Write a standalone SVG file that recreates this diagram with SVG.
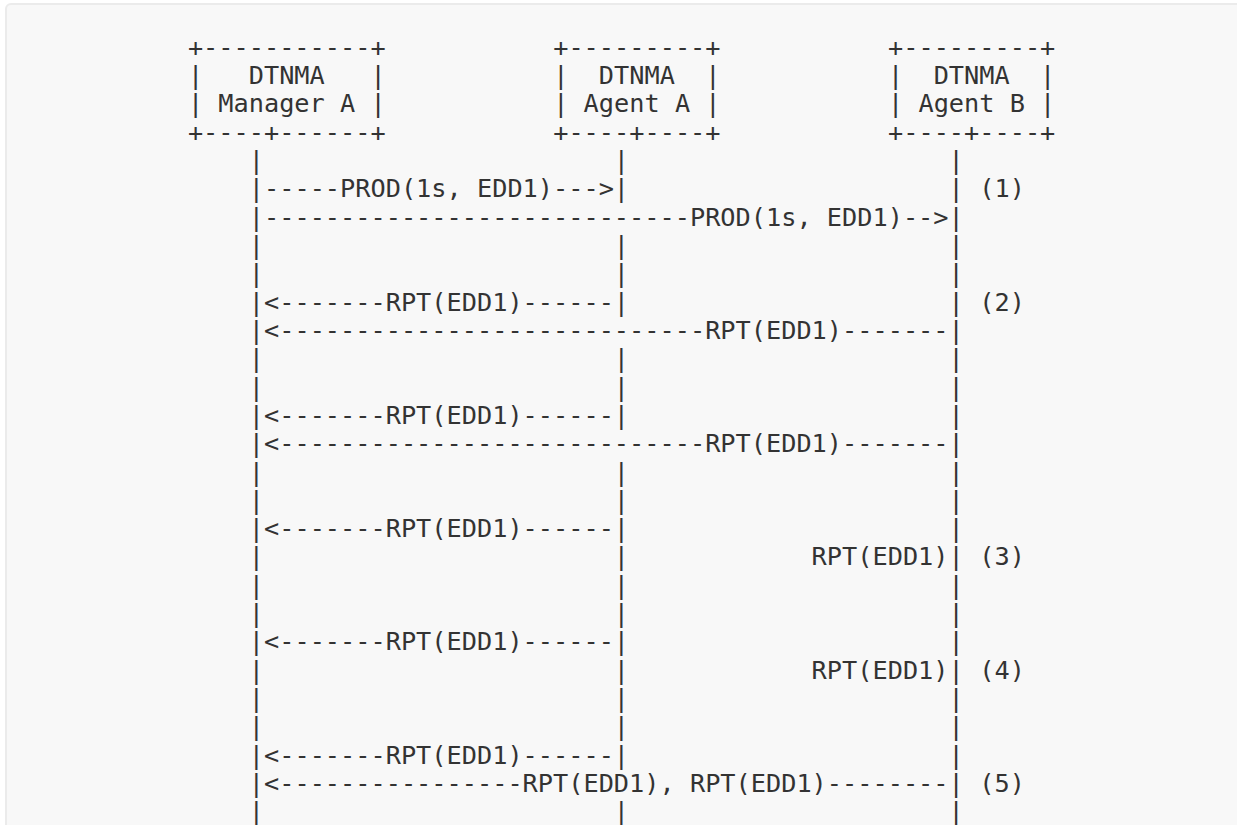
<svg xmlns="http://www.w3.org/2000/svg" width="1237" height="825" viewBox="0 0 1237 825">
  <style>
    .t { font-family: "DejaVu Sans Mono", "Liberation Mono", monospace; font-size: 25.28px; fill: #333333; white-space: pre; }
  </style>
  <rect x="0" y="0" width="1237" height="825" fill="#ffffff"/>
  <rect x="6" y="4" width="1250" height="840" rx="5" ry="5" fill="#f8f8f8" stroke="#ebebeb" stroke-width="2"/>

  <g id="manager-a">
    <text class="t" xml:space="preserve" x="187.9" y="55.7">+-----------+</text>
    <text class="t" xml:space="preserve" x="187.9" y="84.0">|   DTNMA   |</text>
    <text class="t" xml:space="preserve" x="187.9" y="112.3">| Manager A |</text>
    <text class="t" xml:space="preserve" x="187.9" y="140.6">+----+------+</text>
  </g>
  <g id="agent-a">
    <text class="t" xml:space="preserve" x="553.2" y="55.7">+---------+</text>
    <text class="t" xml:space="preserve" x="553.2" y="84.0">|  DTNMA  |</text>
    <text class="t" xml:space="preserve" x="553.2" y="112.3">| Agent A |</text>
    <text class="t" xml:space="preserve" x="553.2" y="140.6">+----+----+</text>
  </g>
  <g id="agent-b">
    <text class="t" xml:space="preserve" x="888.0" y="55.7">+---------+</text>
    <text class="t" xml:space="preserve" x="888.0" y="84.0">|  DTNMA  |</text>
    <text class="t" xml:space="preserve" x="888.0" y="112.3">| Agent B |</text>
    <text class="t" xml:space="preserve" x="888.0" y="140.6">+----+----+</text>
  </g>

  <g id="connectors">
    <text class="t" xml:space="preserve" x="248.8" y="168.9">|                       |                     |</text>
    <text class="t" xml:space="preserve" x="248.8" y="197.3">|-----PROD(1s, EDD1)---&gt;|                     |</text>
    <text class="t" xml:space="preserve" x="248.8" y="225.6">|----------------------------PROD(1s, EDD1)--&gt;|</text>
    <text class="t" xml:space="preserve" x="248.8" y="253.9">|                       |                     |</text>
    <text class="t" xml:space="preserve" x="248.8" y="282.2">|                       |                     |</text>
    <text class="t" xml:space="preserve" x="248.8" y="310.6">|&lt;-------RPT(EDD1)------|                     |</text>
    <text class="t" xml:space="preserve" x="248.8" y="338.9">|&lt;----------------------------RPT(EDD1)-------|</text>
    <text class="t" xml:space="preserve" x="248.8" y="367.2">|                       |                     |</text>
    <text class="t" xml:space="preserve" x="248.8" y="395.5">|                       |                     |</text>
    <text class="t" xml:space="preserve" x="248.8" y="423.8">|&lt;-------RPT(EDD1)------|                     |</text>
    <text class="t" xml:space="preserve" x="248.8" y="452.2">|&lt;----------------------------RPT(EDD1)-------|</text>
    <text class="t" xml:space="preserve" x="248.8" y="480.5">|                       |                     |</text>
    <text class="t" xml:space="preserve" x="248.8" y="508.8">|                       |                     |</text>
    <text class="t" xml:space="preserve" x="248.8" y="537.1">|&lt;-------RPT(EDD1)------|                     |</text>
    <text class="t" xml:space="preserve" x="248.8" y="565.4">|                       |            RPT(EDD1)|</text>
    <text class="t" xml:space="preserve" x="248.8" y="593.8">|                       |                     |</text>
    <text class="t" xml:space="preserve" x="248.8" y="622.1">|                       |                     |</text>
    <text class="t" xml:space="preserve" x="248.8" y="650.4">|&lt;-------RPT(EDD1)------|                     |</text>
    <text class="t" xml:space="preserve" x="248.8" y="678.7">|                       |            RPT(EDD1)|</text>
    <text class="t" xml:space="preserve" x="248.8" y="707.0">|                       |                     |</text>
    <text class="t" xml:space="preserve" x="248.8" y="735.4">|                       |                     |</text>
    <text class="t" xml:space="preserve" x="248.8" y="763.7">|&lt;-------RPT(EDD1)------|                     |</text>
    <text class="t" xml:space="preserve" x="248.8" y="792.0">|&lt;----------------RPT(EDD1), RPT(EDD1)--------|</text>
    <text class="t" xml:space="preserve" x="248.8" y="820.3">|                       |                     |</text>
  </g>

  <g id="step-labels">
    <text class="t" x="979.3" y="197.3">(1)</text>
    <text class="t" x="979.3" y="310.6">(2)</text>
    <text class="t" x="979.3" y="565.4">(3)</text>
    <text class="t" x="979.3" y="678.7">(4)</text>
    <text class="t" x="979.3" y="792.0">(5)</text>
  </g>
</svg>
